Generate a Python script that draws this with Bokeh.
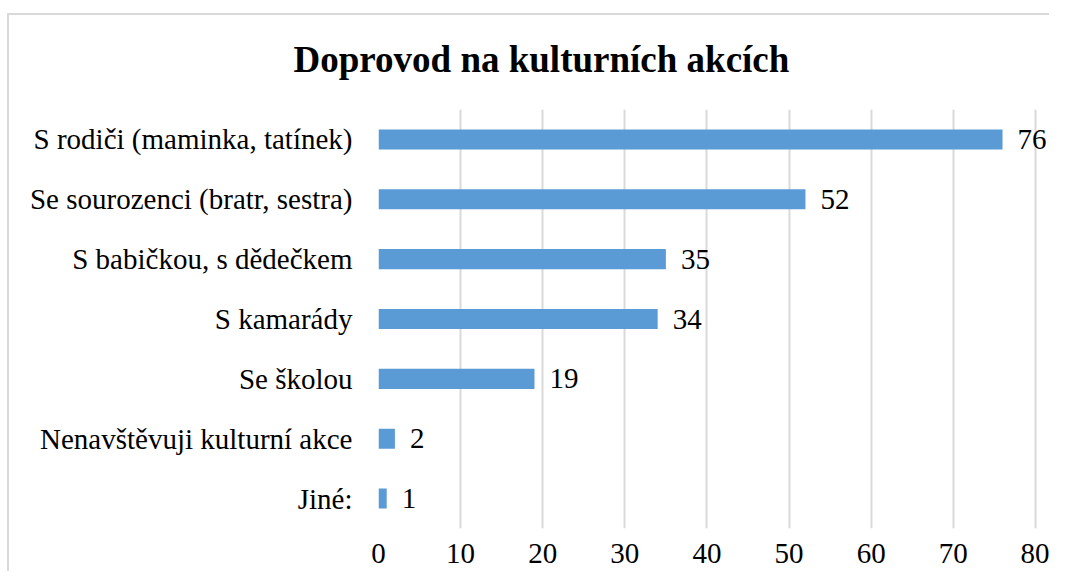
from bokeh.plotting import figure
from bokeh.models import FactorRange, ColumnDataSource, FixedTicker, Title
from bokeh.core.properties import value
from bokeh.embed import file_html
from bokeh.resources import INLINE

categories = ["S rodiči (maminka, tatínek)", "Se sourozenci (bratr, sestra)",
              "S babičkou, s dědečkem", "S kamarády", "Se školou",
              "Nenavštěvuji kulturní akce", "Jiné:"]
counts = [76, 52, 35, 34, 19, 2, 1]
x_ticks = [0, 10, 20, 30, 40, 50, 60, 70, 80]
title_text = "Doprovod na kulturních akcích"

FONT = "Liberation Serif"

src = ColumnDataSource(dict(cat=categories, val=counts, lab=[str(c) for c in counts]))

p = figure(width=1049, height=571, output_backend="svg", toolbar_location=None,
           y_range=FactorRange(factors=categories[::-1]), x_range=(0, 81.6),
           min_border_left=378, min_border_right=1, min_border_top=109, min_border_bottom=43)
p.title = Title(text=title_text, text_font=FONT, text_font_size="37px",
                text_font_style="bold", align="left", offset=-85, standoff=60, text_color="black")
p.border_fill_color = None
p.background_fill_color = None
p.styles = {"background": "linear-gradient(#d9d9d9,#d9d9d9) 7px 13px / 3000px 2px no-repeat, "
                          "linear-gradient(#d9d9d9,#d9d9d9) 7px 13px / 2px 3000px no-repeat, white"}

p.hbar(y="cat", left=0, right="val", height=0.335, source=src, color="#5B9BD5", line_color=None)
p.text(x="val", y="cat", text="lab", source=src, x_offset=15, text_baseline="middle",
       text_align="left", text_font=value(FONT), text_font_size="29px", text_color="black")

p.outline_line_color = None
p.ygrid.grid_line_color = None
p.xgrid.grid_line_color = "#d9d9d9"
p.xgrid.grid_line_width = 2
p.xaxis.ticker = FixedTicker(ticks=x_ticks)
for ax in (p.xaxis[0], p.yaxis[0]):
    ax.axis_line_color = None
    ax.major_tick_line_color = None
    ax.minor_tick_line_color = None
    ax.major_tick_out = 0
    ax.major_label_text_font = FONT
    ax.major_label_text_font_size = "29px"
    ax.major_label_text_color = "black"
p.yaxis.major_label_standoff = 26
p.xaxis.major_label_standoff = 15

open("out.html", "w").write(file_html(p, INLINE))
